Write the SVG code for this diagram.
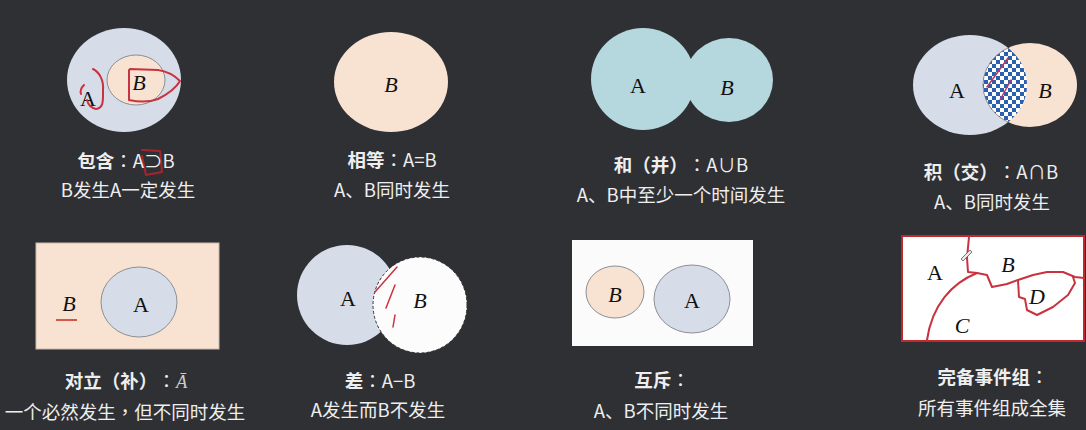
<svg xmlns="http://www.w3.org/2000/svg" width="1086" height="430" viewBox="0 0 1086 430">
<defs>
<style>
.bg{fill:#2f3034}
.ea{fill:#d6dde8;stroke:#8c8f94;stroke-width:1}
.eb{fill:#f8e2d2;stroke:#8c8f94;stroke-width:1}
.eu{fill:#b4d8de}
.lt{font-family:"Liberation Serif","Noto Serif",serif;font-size:22px;fill:#111;text-anchor:middle}
.it{font-style:italic}
.t1{font-family:"Noto Sans CJK SC","Noto Sans",sans-serif;font-size:18.5px;fill:#eeeeee;text-anchor:middle;text-spacing-trim:space-all}
.b{font-weight:bold}
.c{font-family:"Noto Sans CJK TC","Noto Sans",sans-serif}
.red{fill:none;stroke:#c8333f;stroke-width:2;stroke-linecap:round;stroke-linejoin:round}
</style>
<pattern id="chk" x="0" y="0" width="8" height="8" patternUnits="userSpaceOnUse">
<rect width="8" height="8" fill="#ffffff"/>
<rect width="4" height="4" fill="#2b5fb0"/>
<rect x="4" y="4" width="4" height="4" fill="#2b5fb0"/>
</pattern>
<clipPath id="clipA4"><ellipse cx="970" cy="85" rx="57" ry="50"/></clipPath>
</defs>
<rect class="bg" width="1086" height="430"/>

<g id="n-contain">
<ellipse class="ea" cx="124" cy="80" rx="57" ry="52" style="stroke:none"/>
<ellipse class="eb" cx="136" cy="80" rx="29" ry="25"/>
<text class="lt it" x="139" y="90">B</text>
<text class="lt" x="88" y="106">A</text>
<path class="red" d="M93,69 C99,72 104,80 103,90 C103,100 104,108 96,109 C91,108 88,104 87,100"/>
<path class="red" d="M84,85 C81,88 80,91 81,94"/>
<path class="red" d="M129,70 L129,100 C138,102 150,102 158,99 C168,94 176,88 180,81 C174,75 165,71 158,70 L130,69"/>
<path class="red" d="M142,150 L160,151 L162,172 L146,175 L142,156" style="stroke:#a8242c"/>
<text class="t1" x="126" y="168"><tspan class="b">包含</tspan><tspan class="c">：</tspan>A⊃B</text>
<text class="t1" x="128" y="197">B发生A一定发生</text>
</g>

<g id="n-equal">
<ellipse class="eb" cx="391" cy="82" rx="57" ry="50" style="stroke:none"/>
<text class="lt it" x="391" y="92">B</text>
<text class="t1" x="392" y="167"><tspan class="b">相等</tspan><tspan class="c">：</tspan>A=B</text>
<text class="t1" x="392" y="197">A、B同时发生</text>
</g>

<g id="n-union">
<ellipse class="eu" cx="643" cy="79" rx="52" ry="51"/>
<ellipse class="eu" cx="729" cy="80" rx="44" ry="42"/>
<text class="lt" x="638" y="93">A</text>
<text class="lt it" x="727" y="95">B</text>
<text class="t1" x="681" y="172"><tspan class="b">和<tspan class="c">（</tspan>并<tspan class="c">）</tspan></tspan><tspan class="c">：</tspan>A∪B</text>
<text class="t1" x="681" y="202">A、B中至少一个时间发生</text>
</g>

<g id="n-intersect">
<ellipse class="ea" cx="970" cy="85" rx="57" ry="50" style="stroke:none"/>
<ellipse class="eb" cx="1030" cy="85" rx="47" ry="42" style="stroke:none"/>
<ellipse cx="1030" cy="85" rx="47" ry="42" fill="url(#chk)" stroke="#777" stroke-width="0.8" clip-path="url(#clipA4)"/>
<path class="red" d="M987,87 L1008,58 M1000,100 L1011,80" style="stroke-width:1.5;stroke:#c03a55"/>
<text class="lt" x="957" y="98">A</text>
<text class="lt it" x="1045" y="98">B</text>
<text class="t1" x="991" y="179"><tspan class="b">积<tspan class="c">（</tspan>交<tspan class="c">）</tspan></tspan><tspan class="c">：</tspan>A∩B</text>
<text class="t1" x="992" y="209">A、B同时发生</text>
</g>

<g id="n-complement">
<rect x="36" y="243" width="183" height="106" fill="#f8e2d2" stroke="#c9b9ab" stroke-width="1"/>
<ellipse class="ea" cx="139" cy="302" rx="38" ry="35"/>
<text class="lt it" x="69" y="311">B</text>
<path d="M56,320 L77,320" stroke="#d2594a" stroke-width="2"/>
<text class="lt" x="141" y="312">A</text>
<text class="t1" x="126" y="388"><tspan class="b">对立<tspan class="c">（</tspan>补<tspan class="c">）</tspan></tspan><tspan class="c">：</tspan><tspan font-family="Liberation Serif,serif" font-style="italic" fill="#cccccc">Ā</tspan></text>
<text class="t1" x="125" y="419">一个必然发生<tspan class="c">，</tspan>但不同时发生</text>
</g>

<g id="n-difference">
<ellipse class="ea" cx="347" cy="295" rx="50" ry="50" style="stroke:none"/>
<ellipse cx="420" cy="305" rx="47" ry="48" fill="#fcfcfc" stroke="#333" stroke-width="1" stroke-dasharray="3,2"/>
<path class="red" d="M375,292 L397,267 M395,285 L386,308 M395,315 L393,327" style="stroke-width:1.5"/>
<text class="lt" x="348" y="306">A</text>
<text class="lt it" x="420" y="308">B</text>
<text class="t1" x="380" y="388"><tspan class="b">差</tspan><tspan class="c">：</tspan>A−B</text>
<text class="t1" x="378" y="417">A发生而B不发生</text>
</g>

<g id="n-exclusive">
<rect x="572" y="240" width="181" height="106" fill="#fbfbfb"/>
<ellipse class="eb" cx="615" cy="292" rx="29" ry="26"/>
<ellipse class="ea" cx="692" cy="299" rx="38" ry="34"/>
<text class="lt it" x="615" y="302">B</text>
<text class="lt" x="692" y="308">A</text>
<text class="t1" x="662" y="387"><tspan class="b">互斥</tspan><tspan class="c">：</tspan></text>
<text class="t1" x="661" y="418">A、B不同时发生</text>
</g>

<g id="n-complete">
<rect x="902" y="236" width="182" height="105" fill="#ffffff" stroke="#c0282d" stroke-width="2"/>
<path class="red" d="M969,237 L967,258 L968,272 L977,273"/>
<path class="red" d="M977,273 C952,283 932,305 927,340"/>
<path class="red" d="M977,273 L987,275 L992,287 L1007,284 L1018,280 L1033,275 L1047,272 L1063,272 L1075,277 L1084,278"/>
<path class="red" d="M1018,280 L1019,297 L1025,299 L1027,310 L1037,315 L1053,307 L1068,295 L1075,283 L1073,277"/>
<path d="M961,259 L970,250 L972,252 L963,261 Z" fill="#e8e8e8" stroke="#555" stroke-width="0.8"/>
<text class="lt" x="935" y="280">A</text>
<text class="lt it" x="1008" y="272">B</text>
<text class="lt it" x="1037" y="304">D</text>
<text class="lt it" x="962" y="333">C</text>
<text class="t1" x="993" y="384"><tspan class="b">完备事件组</tspan><tspan class="c">：</tspan></text>
<text class="t1" x="992" y="415">所有事件组成全集</text>
</g>
</svg>
